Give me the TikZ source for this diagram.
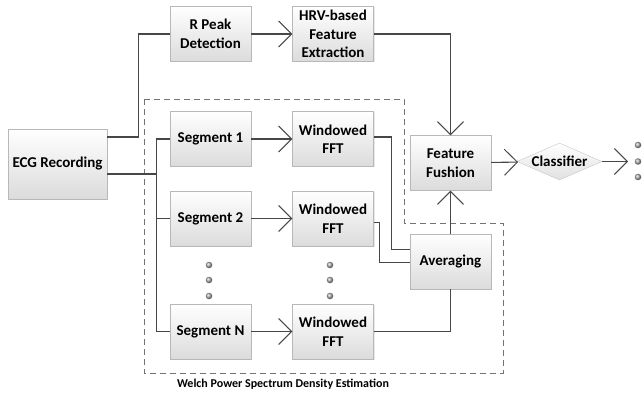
\documentclass[tikz,border=0pt]{standalone}
\usepackage{fontspec}
\setmainfont{Carlito}
\usetikzlibrary{arrows.meta,shapes.geometric,shadows}
\begin{document}
\begin{tikzpicture}[x=1pt,y=-1pt,
  box/.style={draw=black!28, top color=white, bottom color=black!14,
    minimum width=81pt, minimum height=55pt, align=center,
    font=\fontsize{15}{18.5}\selectfont\bfseries, text=black, inner sep=1pt,
    drop shadow={shadow xshift=1pt,shadow yshift=-1pt,opacity=0.18}},
  dia/.style={diamond, aspect=2.3, draw=black!22, top color=white, bottom color=black!12,
    minimum width=85pt, minimum height=37pt, inner sep=0pt,
    font=\fontsize{15}{18.5}\selectfont\bfseries, text=black},
  wire/.style={draw=black!72, line width=1.1pt},
  arr/.style={wire, -{Straight Barb[length=13pt,width=26pt,line width=1pt]}},
  dot/.style={circle, inner sep=0pt, minimum size=6.5pt, shading=ball, ball color=black!32},
  region/.style={draw=black!55, line width=0.9pt, dash pattern=on 6pt off 4pt},
  lbl/.style={font=\fontsize{12}{14}\selectfont\bfseries, text=black}
]
\useasboundingbox (0,0) rectangle (643,393);

% dashed region
\draw[region] (144,99) -- (404,99) -- (404,223) -- (503,223) -- (503,373) -- (144,373) -- cycle;
\node[lbl] (welch) at (283,384) {Welch Power Spectrum Density Estimation};

% nodes
\node[box, minimum width=99pt, minimum height=70pt] (ecg) at (57.5,164) {ECG Recording};
\node[box] (rp)  at (210.5,34) {R Peak\\Detection};
\node[box] (hrv) at (333,34) {HRV-based\\Feature\\Extraction};
\node[box] (s1) at (210.5,139) {Segment 1};
\node[box] (s2) at (210.5,218.5) {Segment 2};
\node[box] (sn) at (210.5,331.5) {Segment N};
\node[box] (f1) at (333,139) {Windowed\\FFT};
\node[box] (f2) at (333,218.5) {Windowed\\FFT};
\node[box] (fn) at (333,331.5) {Windowed\\FFT};
\node[box] (fus) at (450.5,163) {Feature\\Fushion};
\node[box] (avg) at (450.5,261.5) {Averaging};
\node[dia] (cls) at (559.5,161.5) {Classifier};

% dots
\node[dot] (d1a) at (209,265) {};
\node[dot] (d1b) at (209,280) {};
\node[dot] (d1c) at (209,296) {};
\node[dot] (d2a) at (330,265) {};
\node[dot] (d2b) at (330,280) {};
\node[dot] (d2c) at (330,296) {};
\node[dot] (d3a) at (638,145) {};
\node[dot] (d3b) at (638,161.5) {};
\node[dot] (d3c) at (638,177) {};
\coordinate (out) at (628,161.5);

% connectors
\draw[wire] ([yshift=27pt]ecg.east) -- ++(31,0) |- (rp.west);
\draw[arr] (rp) -- (hrv);
\draw[arr] (hrv.east) -| (fus.north);
\draw[wire] ([yshift=-10pt]ecg.east) -- ++(50,0);
\draw[wire] (s1.west) -- ++(-13,0) |- (sn.west);
\draw[wire] (s2.west) -- ++(-13,0);
\draw[arr] (s1) -- (f1);
\draw[arr] (s2) -- (f2);
\draw[arr] (sn) -- (fn);
\draw[wire] ([yshift=2pt]f1.east) -- ++(18,0) |- ([yshift=12pt]avg.west);
\draw[wire] ([yshift=-4pt]f2.east) -- ++(6,0) |- ([yshift=-1pt]avg.west);
\draw[wire] (fn.east) -| (avg.south);
\draw[arr] (avg) -- (fus);
\draw[arr] (fus) -- (cls);
\draw[arr] (cls) -- (out);
\end{tikzpicture}
\end{document}
